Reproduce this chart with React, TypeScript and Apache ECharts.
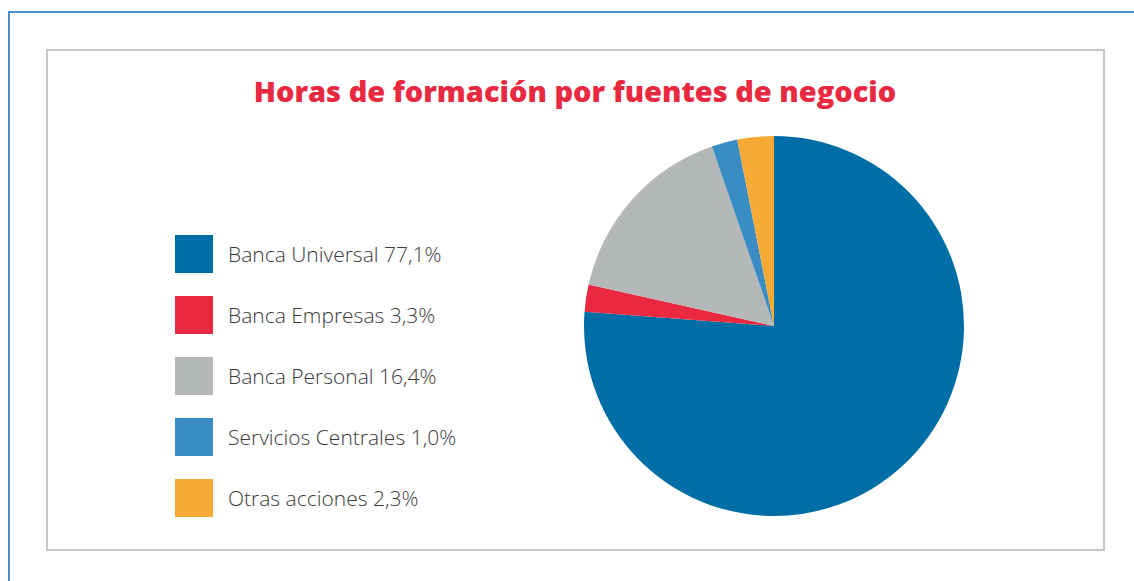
import React, { useEffect, useRef } from "react";
import * as echarts from "echarts";

const title = "Horas de formación por fuentes de negocio";
const categories = ["Banca Universal", "Banca Empresas", "Banca Personal", "Servicios Centrales", "Otras acciones"];
const labelPct = ["77,1%", "3,3%", "16,4%", "1,0%", "2,3%"];
// slice sizes as drawn in the picture (percent)
const sliceValues = [76.2, 2.3, 16.2, 2.2, 3.1];
const colors = ["#006ea6", "#e8293f", "#b4b8b8", "#3a8cc4", "#f5aa35"];

export default function App() {
  const ref = useRef<HTMLDivElement>(null);
  useEffect(() => {
    if (!ref.current) return;
    const chart = echarts.init(ref.current, null, { renderer: "svg" });
    const nameToPct: Record<string, string> = {};
    categories.forEach((c, i) => (nameToPct[c] = labelPct[i]));
    chart.setOption({
      animation: false,
      color: colors,
      graphic: [
        {
          type: "rect",
          shape: { x: 9, y: 12, width: 1200, height: 700 },
          style: { fill: "none", stroke: "#4f90c8", lineWidth: 2 },
          silent: true,
        },
        {
          type: "rect",
          shape: { x: 47, y: 50, width: 1057, height: 500 },
          style: { fill: "none", stroke: "#c4c8c8", lineWidth: 2 },
          silent: true,
        },
        {
          type: "text",
          x: 575,
          y: 90,
          style: {
            text: title,
            fill: "#e8293f",
            font: "800 29px 'Open Sans', sans-serif",
            textAlign: "center",
            textVerticalAlign: "middle",
          },
        },
      ],
      legend: {
        orient: "vertical",
        left: 170,
        top: 230,
        itemWidth: 38,
        itemHeight: 38,
        itemGap: 23,
        icon: "rect",
        selectedMode: false,
        data: categories,
        formatter: (name: string) => `${name} ${nameToPct[name]}`,
        textStyle: {
          fontFamily: "'Open Sans', sans-serif",
          fontWeight: 300,
          fontSize: 21,
          color: "#3a3a3a",
          padding: [0, 0, 0, 10],
        },
      },
      series: [
        {
          type: "pie",
          center: [774, 326],
          radius: 190,
          startAngle: 90,
          clockwise: true,
          label: { show: false },
          labelLine: { show: false },
          emphasis: { disabled: true },
          itemStyle: { borderWidth: 0 },
          data: categories.map((c, i) => ({ name: c, value: sliceValues[i] })),
        },
      ],
    });
    return () => chart.dispose();
  }, []);
  return (
    <div
      ref={ref}
      style={{ position: "absolute", left: 0, top: 0, width: 1134, height: 581, background: "#fff" }}
    />
  );
}
